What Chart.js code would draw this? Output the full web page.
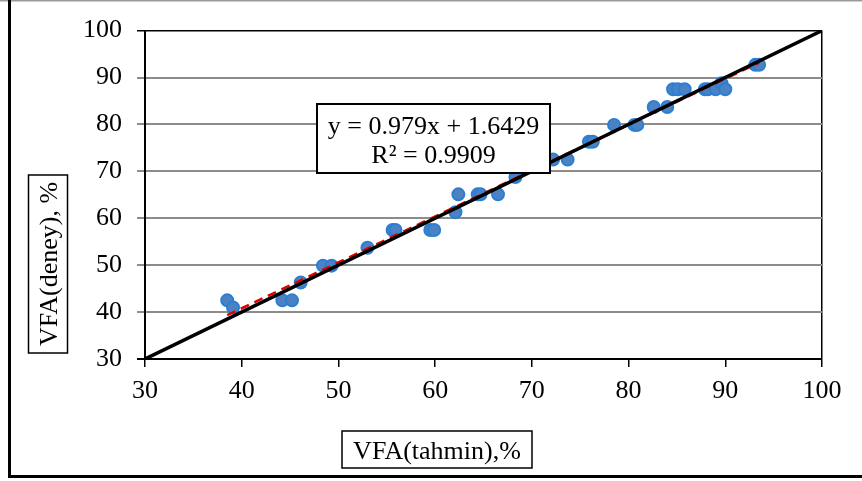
<!DOCTYPE html>
<html>
<head>
<meta charset="utf-8">
<script src="https://cdn.jsdelivr.net/npm/chart.js@4/dist/chart.umd.min.js"></script>
<style>
html,body{margin:0;padding:0;background:#fff;}
#wrap{position:relative;width:862px;height:481px;}
</style>
</head>
<body>
<div id="wrap"><canvas id="c" width="862" height="481"></canvas></div>
<script>
// Measured points: VFA predicted (x) vs VFA experimental (y)
const vfaTahmin = [38.5,39.1,44.2,45.2,46.1,48.4,49.3,53.0,55.6,55.9,59.5,59.9,62.1,62.4,64.4,64.7,66.5,68.3,72.2,73.7,75.9,76.3,78.5,80.6,80.9,82.6,84.0,84.6,85.1,85.8,87.9,88.2,89.0,89.6,90.0,93.1,93.5];
const vfaDeney  = [42.5,41.0,42.5,42.5,46.3,49.9,49.9,53.7,57.5,57.5,57.5,57.5,61.3,65.1,65.1,65.1,65.1,68.8,72.5,72.5,76.3,76.3,79.9,79.9,79.9,83.7,83.7,87.5,87.5,87.5,87.5,87.5,87.5,88.8,87.5,92.7,92.7];
// Linear trend line endpoints (y = 0.979x + 1.6429)
const trendX = [38.5, 93.5];
const trendY = [39.34, 93.18];
// 1:1 reference line endpoints
const lineX = [30, 100];
const lineY = [30, 100];
const ticksXY = [30,40,50,60,70,80,90,100];
const eqLines = ['y = 0.979x + 1.6429', 'R² = 0.9909'];
const xTitle = 'VFA(tahmin),%';
const yTitle = 'VFA(deney), %';

const FONT = '"Liberation Serif", "Times New Roman", serif';

const decor = {
  id: 'decor',
  beforeDraw(chart) {
    const ctx = chart.ctx;
    ctx.save();
    ctx.fillStyle = '#fff';
    ctx.fillRect(0,0,chart.width,chart.height);
    // outer frame
    ctx.strokeStyle = '#9a9a9a'; ctx.lineWidth = 1.5;
    ctx.beginPath(); ctx.moveTo(0,0.75); ctx.lineTo(862,0.75); ctx.stroke();
    ctx.strokeStyle = '#000'; ctx.lineWidth = 3;
    ctx.beginPath(); ctx.moveTo(9.5,0); ctx.lineTo(9.5,476.5); ctx.lineTo(862,476.5); ctx.stroke();
    ctx.restore();
  },
  afterDraw(chart) {
    const ctx = chart.ctx;
    ctx.save();
    ctx.font = '26px ' + FONT;
    ctx.fillStyle = '#000';
    ctx.strokeStyle = '#000';
    ctx.lineWidth = 2;
    // equation box
    ctx.fillStyle = '#fff';
    ctx.fillRect(317,104,233,69);
    ctx.strokeRect(317,104,233,69);
    ctx.fillStyle = '#000';
    ctx.textAlign = 'center';
    ctx.textBaseline = 'alphabetic';
    ctx.fillText(eqLines[0], 433.5, 134);
    ctx.fillText(eqLines[1], 433.5, 163);
    // x title
    ctx.lineWidth = 1.5;
    ctx.strokeRect(342,431,190,37);
    ctx.fillText(xTitle, 437, 459);
    // y title
    ctx.strokeRect(28.5,175,39,178);
    ctx.translate(57, 264);
    ctx.rotate(-Math.PI/2);
    ctx.fillText(yTitle, 0, 0);
    ctx.restore();
  }
};

new Chart(document.getElementById('c'), {
  type: 'scatter',
  data: {
    datasets: [
      {
        label: '1:1',
        type: 'line',
        data: lineX.map((v,i)=>({x:v,y:lineY[i]})),
        borderColor: '#000',
        borderWidth: 3.5,
        pointRadius: 0,
        fill: false,
        order: 0
      },
      {
        label: 'trend',
        type: 'line',
        data: trendX.map((v,i)=>({x:v,y:trendY[i]})),
        borderColor: '#e00000',
        borderWidth: 2.5,
        borderDash: [9,6],
        pointRadius: 0,
        fill: false,
        order: 1
      },
      {
        label: 'VFA',
        data: vfaTahmin.map((v,i)=>({x:v,y:vfaDeney[i]})),
        backgroundColor: '#4d82c2',
        borderColor: '#2a7fd4',
        borderWidth: 2,
        pointRadius: 6,
        order: 2
      }
    ]
  },
  plugins: [decor],
  options: {
    responsive: false,
    animation: false,
    devicePixelRatio: 1,
    layout: { padding: { top: 28, right: 40, left: 0, bottom: 0 } },
    plugins: { legend: { display: false }, tooltip: { enabled: false } },
    scales: {
      x: {
        type: 'linear',
        min: 30, max: 100,
        afterBuildTicks: s => { s.ticks = ticksXY.map(v=>({value:v})); },
        afterFit: s => { s.height = 122; },
        grid: {
          color: c => (c.tick && c.tick.value === 100) ? '#000' : 'rgba(0,0,0,0)',
          tickColor: '#000',
          lineWidth: 1.5,
          tickLength: 8,
          drawOnChartArea: true
        },
        border: { color: '#000', width: 2 },
        ticks: { color: '#000', font: { family: FONT, size: 26 }, padding: 9, maxRotation: 0 }
      },
      y: {
        type: 'linear',
        min: 30, max: 100,
        afterBuildTicks: s => { s.ticks = ticksXY.map(v=>({value:v})); },
        afterFit: s => { s.width = 145; },
        grid: {
          color: c => (c.tick && (c.tick.value === 100 || c.tick.value === 30)) ? '#000' : '#8c8c8c',
          lineWidth: c => (c.tick && c.tick.value === 100) ? 1.5 : 2,
          tickLength: 8
        },
        border: { color: '#000', width: 2 },
        ticks: { color: '#000', font: { family: FONT, size: 26 }, padding: 15 }
      }
    }
  }
});
</script>
</body>
</html>
